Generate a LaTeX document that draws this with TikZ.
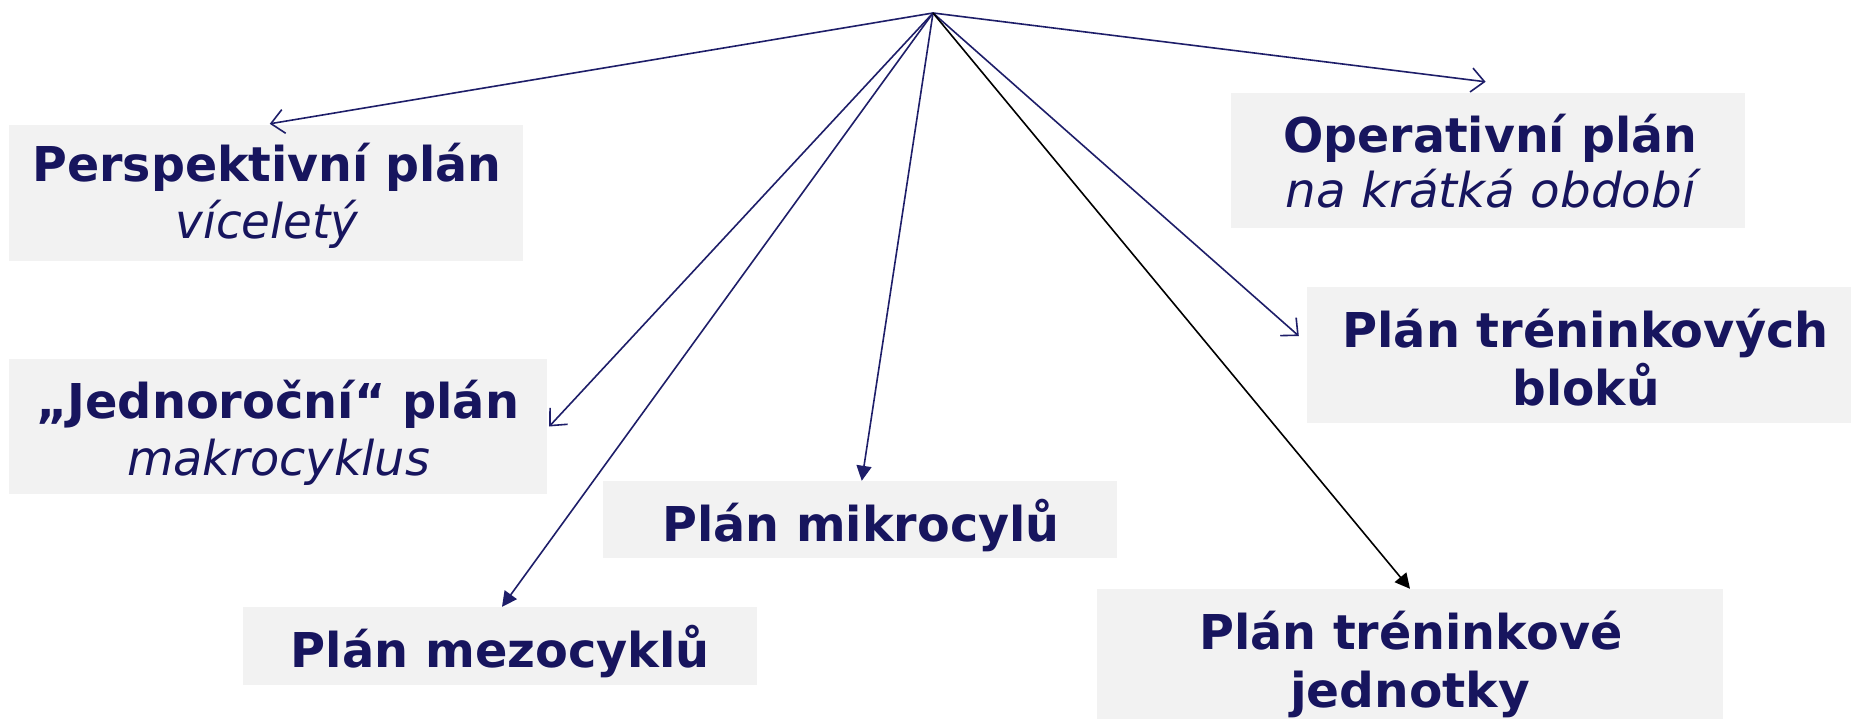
\documentclass[tikz,border=0pt]{standalone}
\usepackage{fontspec}
\setmainfont{DejaVu Sans}
\usetikzlibrary{arrows.meta}
\definecolor{navy}{RGB}{23,21,94}
\definecolor{linecol}{RGB}{30,30,105}
\definecolor{boxfill}{RGB}{242,242,242}
\newcommand{\fitw}[2]{\resizebox{#1pt}{\height}{#2}}
\begin{document}
\begin{tikzpicture}[x=1pt,y=-1pt,
  planbox/.style={fill=boxfill, draw=none, inner sep=0pt},
  bt/.style={font=\fontsize{48}{58}\selectfont\bfseries, text=navy, inner sep=0pt, anchor=base},
  it/.style={font=\fontsize{48}{58}\selectfont\itshape, text=navy, inner sep=0pt, anchor=base},
  openarr/.style={draw=linecol, line width=1.6pt, -{Straight Barb[length=13pt,width=24pt]}},
  fillarr/.style={draw=linecol, line width=1.6pt, -{Triangle[length=15pt,width=15pt]}}]
\useasboundingbox (0,0) rectangle (1851,719);
\fill[white] (0,0) rectangle (1851,719);

% boxes
\node[planbox, minimum width=513.5pt, minimum height=136pt] (p) at (265.75,193) {};
\node[planbox, minimum width=514pt, minimum height=135pt] (op) at (1488,160.5) {};
\node[planbox, minimum width=544pt, minimum height=136pt] (bl) at (1579,355) {};
\node[planbox, minimum width=537.5pt, minimum height=135pt] (jd) at (277.75,426.5) {};
\node[planbox, minimum width=514.5pt, minimum height=77pt] (mi) at (859.75,519.5) {};
\node[planbox, minimum width=514pt, minimum height=78pt] (me) at (500,646) {};
\node[planbox, minimum width=626pt, minimum height=130pt] (jt) at (1410,654) {};

% texts
\node[bt] (p1) at (267,182) {\fitw{469}{Perspektivní plán}};
\node[it] (p2) at (267,239) {\fitw{183}{víceletý}};
\node[bt] (op1) at (1490.5,153) {\fitw{414}{Operativní plán}};
\node[it] (op2) at (1490.5,208) {\fitw{410}{na krátká období}};
\node[bt] (bl1) at (1585.5,347) {\fitw{486}{Plán tréninkových}};
\node[bt] (bl2) at (1586,405) {\fitw{147}{bloků}};
\node[bt] (jd1) at (277.7,418) {\fitw{483}{„Jednoroční“ plán}};
\node[it] (jd2) at (278.6,475) {\fitw{303}{makrocyklus}};
\node[bt] (mi1) at (861,541) {\fitw{397}{Plán mikrocylů}};
\node[bt] (me1) at (500.4,667) {\fitw{419}{Plán mezocyklů}};
\node[bt] (jt1) at (1410.8,649) {\fitw{423}{Plán tréninkové}};
\node[bt] (jt2) at (1410,707) {\fitw{240}{jednotky}};

% arrows
\coordinate (apex) at (933,13);
\draw[openarr] (apex) -- ([xshift=4pt,yshift=1pt]p.north);
\draw[openarr] (apex) -- ([xshift=-2.4pt,yshift=11pt]op.north);
\draw[openarr] (apex) -- ([xshift=-8pt,yshift=19pt]bl.west);
\draw[openarr] (apex) -- ([xshift=2.5pt]jd.east);
\draw[fillarr] (apex) -- ([xshift=2pt]mi.north);
\draw[fillarr] (apex) -- ([xshift=2pt]me.north);
\draw[fillarr, draw=black, fill=black] (apex) -- (jt.north);
\end{tikzpicture}
\end{document}
